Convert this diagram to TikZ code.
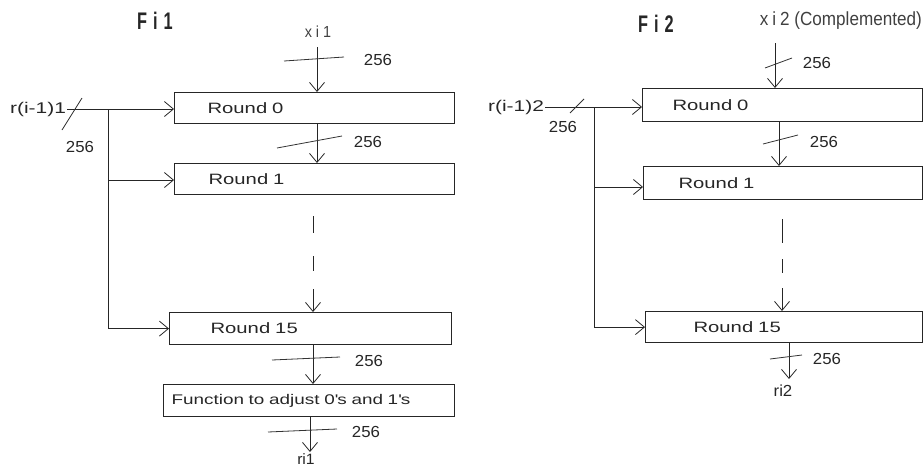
\documentclass[tikz,border=0pt]{standalone}
\usepackage{fontspec}
\setmainfont[FakeStretch=1.35]{Liberation Sans}
\newfontfamily\numfont[FakeStretch=1.05]{Liberation Sans}
\newfontfamily\ttlfont[FakeStretch=0.68]{Liberation Sans}
\newfontfamily\xfont[FakeStretch=0.9]{Liberation Sans}
\usetikzlibrary{arrows.meta,calc}
\begin{document}
\begin{tikzpicture}[x=1pt,y=-1pt,
  box/.style={draw=black!85, line width=1.2pt, rectangle, anchor=north west, align=left,
    font=\fontsize{15}{18}\selectfont, inner ysep=0pt, text=black!85},
  ln/.style={line width=0.9pt, draw=black!85},
  arr/.style={ln, -{Straight Barb[length=9pt,width=15pt,line width=0.8pt]}},
  tick/.style={line width=0.8pt, draw=black!80},
  num/.style={font=\numfont\fontsize{16}{18}\selectfont, inner sep=0pt, text=black!85},
  lbl/.style={font=\fontsize{15.5}{18}\selectfont, inner sep=1pt, text=black!85},
  ttl/.style={font=\ttlfont\bfseries\fontsize{24}{26}\selectfont, inner sep=0pt, text=black!85},
  xl/.style={font=\xfont\fontsize{19}{21}\selectfont, inner sep=0pt, text=black!75}]
\useasboundingbox (0,0) rectangle (923,466);

% ---------------- left: Fi1 ----------------
\node[ttl] (t1) at (155,21) {F\hspace{6pt}i\hspace{6pt}1};
\node[xl, font=\xfont\fontsize{16}{18}\selectfont] (x1) at (318,32) {x\hspace{4pt}i\hspace{4pt}1};

\node[box, minimum height=31pt, inner xsep=33pt, text width=214pt] (r0l) at (174,92) {Round 0};
\node[box, minimum height=31pt, inner xsep=34pt, text width=212pt] (r1l) at (174,163) {Round 1};
\node[box, minimum height=32pt, inner xsep=41pt, text width=200pt] (r15l) at (169,312) {Round 15};
\node[box, minimum height=32pt, inner xsep=8pt, text width=275pt, font=\fontsize{14}{17}\selectfont] (fl) at (163,384) {Function to adjust 0\textquotesingle s and 1\textquotesingle s};

\coordinate (xin1) at (317,47);
\coordinate (ca) at (317,0);
\coordinate (cb) at (313,0);
\coordinate (cc) at (310,0);
\coordinate (o1) at (310,452);
\coordinate (bx1) at (108,0);

\draw[arr] (xin1) -- (xin1 |- r0l.north);
\draw[tick] (284,61) -- (344,57);
\node[num] at (378,60) {256};

\draw[arr] (r0l.south -| ca) -- (r1l.north -| ca);
\draw[tick] (277,148) -- (342,136);
\node[num] at (368,142) {256};

\draw[arr, dash pattern=on 0pt off 21pt on 17pt off 23pt on 15pt off 18pt on 40pt]
  (r1l.south -| cb) -- (r15l.north -| cb);

\draw[arr] (r15l.south -| cb) -- (fl.north -| cb);
\draw[tick] (272,360) -- (340,357);
\node[num] at (369,361) {256};

\draw[arr] (fl.south -| cc) -- (o1);
\draw[tick] (268,432) -- (337,429);
\node[num] at (366,432) {256};
\node[num, font=\numfont\fontsize{15}{17}\selectfont] (ri1) at (306,459) {ri1};

\node[lbl] (rin1) at (38,109) {r(i-1)1};
\draw[arr] (rin1.east) -- (r0l.west |- rin1.east);
\draw[tick] (62,130) -- (82,98);
\node[num] at (80,147) {256};
\draw[arr] (rin1.east -| bx1) |- (r15l.west);
\draw[arr] (bx1 |- 0,180) -- (r1l.west |- 0,180);

% ---------------- right: Fi2 ----------------
\node[ttl] (t2) at (656,24) {F\hspace{6pt}i\hspace{6pt}2};
\node[xl, anchor=east] (x2) at (922,21) {x\hspace{4pt}i\hspace{4pt}2 (Complemented)};

\node[box, minimum height=33pt, inner xsep=30pt, text width=219.5pt] (r0r) at (642,88) {Round 0};
\node[box, minimum height=33pt, inner xsep=35pt, text width=208.5pt] (r1r) at (643,166) {Round 1};
\node[box, minimum height=31pt, inner xsep=48pt, text width=180.5pt] (r15r) at (645,311) {Round 15};

\coordinate (xin2) at (775,43);
\coordinate (cd) at (779,0);
\coordinate (ce) at (782,0);
\coordinate (cf) at (789,0);
\coordinate (o2) at (789,379);
\coordinate (bx2) at (594,0);

\draw[arr] (xin2) -- (xin2 |- r0r.north);
\draw[tick] (765,68) -- (792,58);
\node[num] at (817,63) {256};

\draw[arr] (r0r.south -| cd) -- (r1r.north -| cd);
\draw[tick] (763,144) -- (798,135);
\node[num] at (824,142) {256};

\draw[arr, dash pattern=on 0pt off 19pt on 24pt off 16pt on 14pt off 15pt on 40pt]
  (r1r.south -| ce) -- (r15r.north -| ce);

\draw[arr] (r15r.south -| cf) -- (o2);
\draw[tick] (770,359) -- (802,355);
\node[num] at (827,359) {256};
\node[num] (ri2) at (783,391) {ri2};

\node[lbl] (rin2) at (516,107) {r(i-1)2};
\draw[arr] (rin2.east) -- (r0r.west |- rin2.east);
\draw[tick] (570,113) -- (584,99);
\node[num] at (563,127) {256};
\draw[arr] (rin2.east -| bx2) |- (r15r.west);
\draw[arr] (bx2 |- 0,187) -- (r1r.west |- 0,187);
\end{tikzpicture}
\end{document}
